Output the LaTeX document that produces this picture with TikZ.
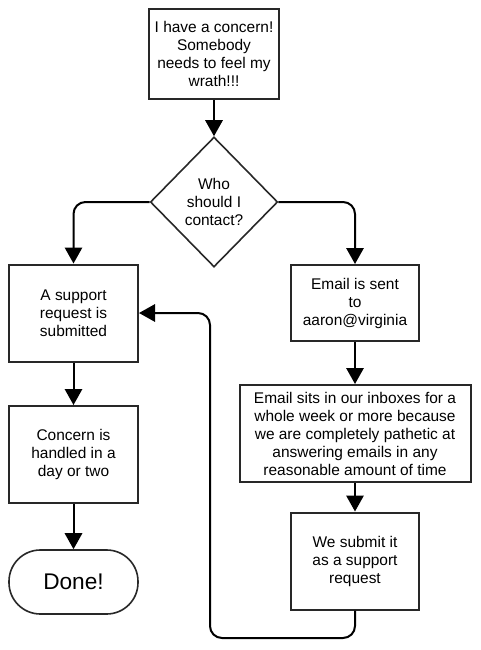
\documentclass[tikz,border=0pt]{standalone}
\usepackage{fontspec}
\setmainfont{Liberation Sans}
\usetikzlibrary{shapes.geometric,arrows.meta}
\definecolor{edge}{RGB}{40,40,40}
\begin{document}
\begin{tikzpicture}[x=0.75pt,y=-0.75pt,
  box/.style={draw=edge,line width=1.5pt,fill=white,align=center,inner sep=2pt,
    font=\fontsize{11.6}{13.5}\selectfont},
  dec/.style={draw=edge,line width=1.2pt,fill=white,diamond,align=center,inner sep=0pt,
    minimum width=95.5pt,minimum height=97.5pt,font=\fontsize{11.6}{13.5}\selectfont},
  term/.style={draw=edge,line width=1.2pt,fill=white,rectangle,rounded corners=23.5pt,align=center,
    font=\fontsize{17}{20}\selectfont},
  arr/.style={draw=black,line width=1.5pt,-{Triangle[width=13pt,length=12pt]}},
  ]
\useasboundingbox (0,0) rectangle (480,650);
\node[box,minimum width=97.5pt,minimum height=67.5pt] (top) at (214,54)
  {I have a concern!\\Somebody\\needs to feel my\\wrath!!!};
\node[dec] (dia) at (214,202) {Who\\should I\\contact?};
\node[box,minimum width=96.75pt,minimum height=72.75pt] (A) at (73.5,313)
  {A support\\request is\\submitted};
\node[box,minimum width=96.75pt,minimum height=72.75pt] (C) at (73.5,454.5)
  {Concern is\\handled in a\\day or two};
\node[term,minimum width=96.75pt,minimum height=48pt] (D) at (73.5,582) {Done!};
\node[box,minimum width=96pt,minimum height=57pt] (E) at (355,303)
  {Email is sent\\to\\aaron@virginia};
\node[box,minimum width=173.25pt,minimum height=72.75pt] (S) at (355,433.5)
  {Email sits in our inboxes for a\\whole week or more because\\we are completely pathetic at\\answering emails in any\\reasonable amount of time};
\node[box,minimum width=96pt,minimum height=72.75pt] (W) at (355,561)
  {We submit it\\as a support\\request};
\coordinate (lp) at (210,638);
\draw[arr] (top.south) -- (dia.north);
\draw[arr,rounded corners=9pt] (dia.west) -| (A.north);
\draw[arr,rounded corners=9pt] (dia.east) -| (E.north);
\draw[arr] (A.south) -- (C.north);
\draw[arr] (C.south) -- (D.north);
\draw[arr] (E.south) -- (S.north);
\draw[arr] (S.south) -- (W.north);
\draw[arr,rounded corners=9pt] (W.south) |- (lp) |- (A.east);
\end{tikzpicture}
\end{document}
